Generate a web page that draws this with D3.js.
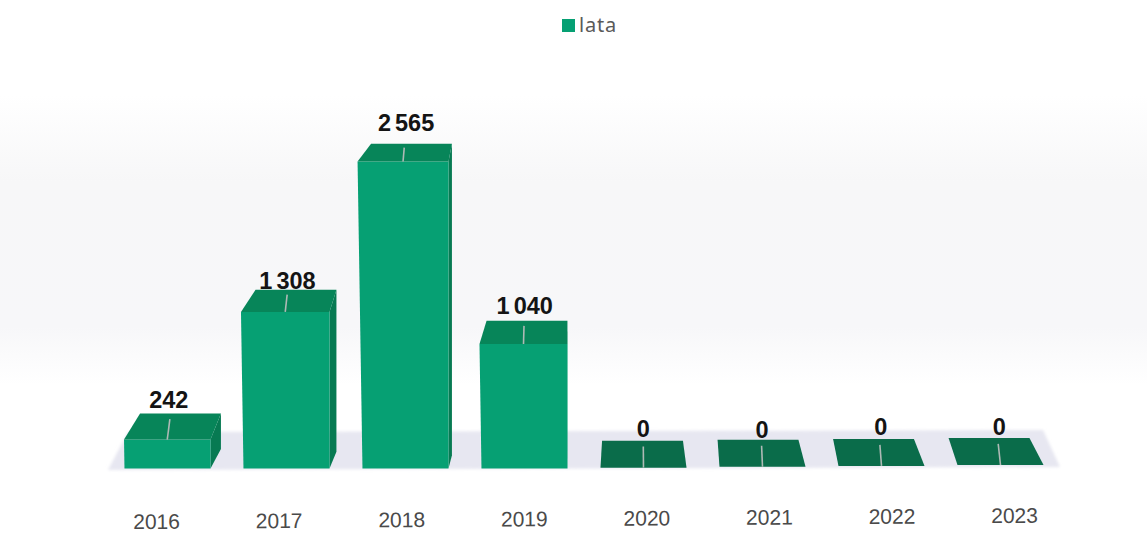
<!DOCTYPE html>
<html>
<head>
<meta charset="utf-8">
<script src="https://cdn.jsdelivr.net/npm/d3@7"></script>
<style>
  html, body { margin: 0; padding: 0; background: #fff; }
  svg { display: block; }
  .tick text { font-family: "Liberation Sans", sans-serif; font-size: 21px; fill: #4a4a4a; }
  .value { font-family: "Liberation Sans", sans-serif; font-size: 23.5px; font-weight: 700; fill: #141414; text-anchor: middle; word-spacing: -2.5px; }
  .legend-label { font-family: "Noto Sans", sans-serif; font-size: 20px; fill: #5a5a5a; letter-spacing: 0.8px; }
</style>
</head>
<body>
<div id="chart"></div>
<script>
// Chart values
const years = ["2016", "2017", "2018", "2019", "2020", "2021", "2022", "2023"];
const values = [242, 1308, 2565, 1040, 0, 0, 0, 0];
const seriesName = "lata";

const width = 1147, height = 546;
const colors = { front: "#06a073", top: "#078559", side: "#077a52", flat: "#0a6c4a", floor: "#e7e7f1", leader: "#aeb9b5" };

const svg = d3.select("#chart").append("svg")
    .attr("width", width)
    .attr("height", height);

const defs = svg.append("defs");
defs.append("filter").attr("id", "soft").append("feGaussianBlur").attr("stdDeviation", 1.6);

// Haze fades in and out vertically
const haze = defs.append("linearGradient").attr("id", "haze").attr("x1", 0).attr("x2", 0).attr("y1", 0).attr("y2", 1);
haze.append("stop").attr("offset", "0%").attr("stop-color", "#ffffff");
haze.append("stop").attr("offset", "30%").attr("stop-color", "#f7f7f8");
haze.append("stop").attr("offset", "80%").attr("stop-color", "#f7f7f9");
haze.append("stop").attr("offset", "100%").attr("stop-color", "#ffffff");

// Scales
const x = d3.scaleBand()
    .domain(years)
    .range([108, 1060])
    .paddingInner(0.277)
    .paddingOuter(0.1385);

const y = d3.scaleLinear()
    .domain([0, d3.max(values)])
    .range([0, 307]);

// the floor tilts up a little to the right
const baseline = d3.scaleLinear().domain([3, 7]).range([468.5, 465]).clamp(true);

const depthShift = d3.scaleLinear().domain([167, 1001]).range([13, -11.5]);
const depthOf = h => 27 - 0.03 * h;

// Scanned paper haze behind the chart
svg.append("rect")
    .attr("x", 0).attr("y", 95)
    .attr("width", width).attr("height", 290)
    .attr("fill", "url(#haze)");

// Floor
const floorLine = d3.line();
svg.append("path")
    .attr("d", floorLine([[x.range()[0], 470], [128, 432], [1043, 430], [x.range()[1], 467]]) + "Z")
    .attr("fill", colors.floor)
    .attr("filter", "url(#soft)");

const bars = years.map((year, i) => {
    const h = y(values[i]);
    const x0 = x(year), x1 = x0 + x.bandwidth();
    const centre = (x0 + x1) / 2;
    const base = baseline(i);
    const topY = base - h;
    const lean = h * 0.016;
    const depth = depthOf(h);
    const shift = depthShift(centre);
    const backHalf = x.bandwidth() / 2 * 0.94;
    return {
        year, value: values[i], h, x0, x1, centre, base, topY, lean, depth, shift,
        backL: centre + shift - backHalf,
        backR: centre + shift + backHalf,
        backY: topY - depth
    };
});

const line = d3.line();

// Right side faces
svg.selectAll(".side")
    .data(bars.filter(d => d.h > 0))
    .join("path")
    .attr("class", "side")
    .attr("fill", colors.side)
    .attr("d", d => line([[d.x1, d.topY], [d.backR, d.backY], [d.backR, d.base - d.depth * 0.75], [d.x1, d.base]]) + "Z");

// Front faces
svg.selectAll(".front")
    .data(bars.filter(d => d.h > 0))
    .join("path")
    .attr("class", "front")
    .attr("fill", colors.front)
    .attr("d", d => line([[d.x0 - d.lean, d.topY], [d.x1, d.topY], [d.x1, d.base], [d.x0, d.base]]) + "Z");

// Top faces
svg.selectAll(".top")
    .data(bars)
    .join("path")
    .attr("class", "top")
    .attr("fill", d => d.h > 0 ? colors.top : colors.flat)
    .attr("d", d => line([[d.x0 - d.lean, d.topY], [d.backL, d.backY], [d.backR, d.backY], [d.x1, d.topY]]) + "Z");

// Leader lines
svg.selectAll(".leader")
    .data(bars)
    .join("line")
    .attr("class", "leader")
    .attr("stroke", colors.leader)
    .attr("stroke-width", 1.6)
    .attr("x1", d => d.centre - d.lean / 2)
    .attr("y1", d => d.topY)
    .attr("x2", d => d.centre - d.lean / 2 + d.shift * 0.2)
    .attr("y2", d => d.topY - d.depth * 0.78);

// Value labels, the gap above each bar is uneven in the original
const labelGaps = [5, 1, 13, 7, 4, 2, 4, 3];
const valueFormat = d3.formatLocale({ decimal: ",", thousands: " ", grouping: [3], currency: ["", ""] }).format(",d");
svg.selectAll(".value")
    .data(bars)
    .join("text")
    .attr("class", "value")
    .attr("x", d => d.centre + d.shift * 0.1)
    .attr("y", (d, i) => d.backY - labelGaps[i])
    .text(d => valueFormat(d.value));

// Category axis, slightly rotated like the scanned original
const xLabels = d3.scalePoint().domain(years).range([156, 1014]);
const axis = svg.append("g")
    .attr("transform", "translate(0,511) rotate(-0.4 585 0)")
    .call(d3.axisBottom(xLabels).tickSize(0).tickPadding(0));
axis.select(".domain").remove();

// Legend
const legend = svg.append("g");
legend.append("rect")
    .attr("x", 562).attr("y", 19)
    .attr("width", 13).attr("height", 13)
    .attr("fill", colors.front);
legend.append("text")
    .attr("class", "legend-label")
    .attr("x", 579).attr("y", 32)
    .text(seriesName);
</script>
</body>
</html>
